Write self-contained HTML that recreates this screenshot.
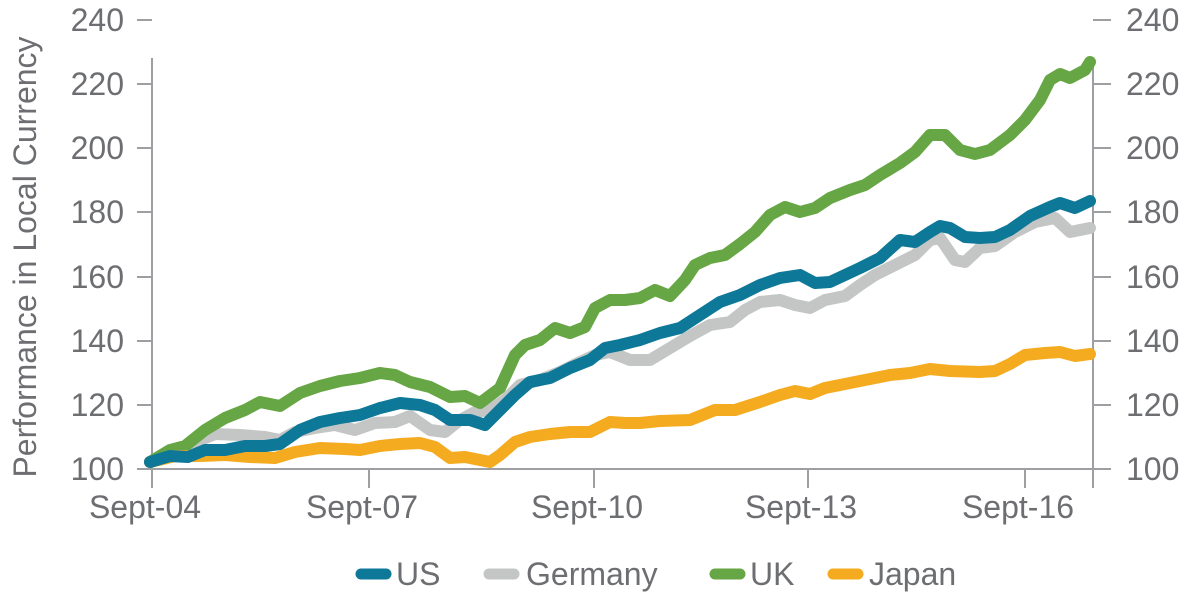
<!DOCTYPE html>
<html><head><meta charset="utf-8"><style>
body{margin:0;background:#fff}
svg text{font-family:"Liberation Sans",sans-serif;fill:#6d6e71}
</style></head><body>
<svg width="1191" height="598" viewBox="0 0 1191 598">
<g stroke="#9d9fa2" stroke-width="2" fill="none">
<line x1="152" y1="58" x2="152" y2="488"/>
<line x1="1093" y1="58" x2="1093" y2="488"/>
<line x1="137" y1="469" x2="1111" y2="469"/>
<line x1="369" y1="469" x2="369" y2="488"/>
<line x1="594" y1="469" x2="594" y2="488"/>
<line x1="808" y1="469" x2="808" y2="488"/>
<line x1="1025" y1="469" x2="1025" y2="488"/>
<path d="M137 20H152M137 84H152M137 148H152M137 212H152M137 277H152M137 341H152M137 405H152M1093 20H1111M1093 84H1111M1093 148H1111M1093 212H1111M1093 277H1111M1093 341H1111M1093 405H1111"/>
</g>
<g font-size="32" text-anchor="end">
<text x="124" y="31">240</text><text x="124" y="95">220</text><text x="124" y="159">200</text><text x="124" y="223">180</text><text x="124" y="288">160</text><text x="124" y="352">140</text><text x="124" y="416">120</text><text x="124" y="480">100</text>
</g>
<g font-size="32" text-anchor="start">
<text x="1126" y="31">240</text><text x="1126" y="95">220</text><text x="1126" y="159">200</text><text x="1126" y="223">180</text><text x="1126" y="288">160</text><text x="1126" y="352">140</text><text x="1126" y="416">120</text><text x="1126" y="480">100</text>
</g>
<g font-size="32" text-anchor="middle">
<text x="145" y="518">Sept-04</text><text x="362" y="518">Sept-07</text><text x="587" y="518">Sept-10</text><text x="801" y="518">Sept-13</text><text x="1018" y="518">Sept-16</text>
</g>
<text font-size="32" text-anchor="middle" transform="translate(36,257) rotate(-90)">Performance in Local Currency</text>
<g fill="none" stroke-width="12" stroke-linecap="round" stroke-linejoin="round">
<polyline stroke="#c4c6c5" points="150,462 175,452 200,440 215,434 240,435 265,437 280,440 295,432 315,428 335,425 355,430 375,423 395,422 410,416 430,430 445,432 460,420 475,412 490,410 505,400 520,385 540,380 560,372 580,362 595,355 610,352 630,360 650,360 670,348 690,336 710,325 730,322 745,310 760,302 780,300 795,305 810,308 825,300 845,296 860,285 875,275 895,265 915,255 930,240 940,238 955,260 965,262 980,248 995,246 1015,232 1035,222 1055,218 1070,232 1090,228"/>
<polyline stroke="#66a644" points="150,462 170,450 185,446 205,430 225,418 245,410 260,402 280,406 300,393 320,386 340,381 360,378 380,373 395,375 410,382 430,387 450,397 465,396 480,403 500,388 515,355 525,345 540,340 555,328 570,333 585,327 595,308 610,300 625,300 640,298 655,290 670,296 685,280 695,265 710,258 725,255 740,244 755,232 770,215 785,207 800,212 815,208 830,198 850,190 865,185 880,175 900,163 915,152 930,135 945,135 960,150 975,154 990,150 1010,135 1025,120 1040,100 1050,80 1060,74 1070,78 1085,70 1090,62"/>
<polyline stroke="#f5ab1f" points="150,462 175,456 200,456 225,455 250,457 275,458 295,452 320,448 345,449 360,450 380,446 400,444 420,443 435,447 450,458 465,457 480,460 490,462 500,455 515,442 530,437 550,434 570,432 590,432 600,427 610,422 625,423 640,423 660,421 690,420 715,410 735,410 760,402 780,395 795,391 810,394 825,388 845,384 870,379 890,375 910,373 930,369 950,371 980,372 995,371 1010,364 1025,355 1045,353 1060,352 1075,356 1090,354"/>
<polyline stroke="#0e7898" points="150,462 170,456 188,457 205,450 225,450 245,446 265,446 280,444 300,430 320,422 340,418 360,415 380,408 400,403 420,405 435,410 450,420 470,420 485,425 500,410 515,395 530,382 550,378 570,368 590,360 605,348 620,345 640,340 660,333 680,328 700,315 720,302 740,295 760,285 780,278 800,275 815,283 830,282 845,275 860,268 880,258 900,240 915,242 930,232 940,226 950,228 965,237 980,238 995,237 1010,230 1030,216 1050,207 1060,203 1075,208 1090,201"/>
</g>
<g stroke-width="11" stroke-linecap="round">
<line x1="361" y1="574" x2="386" y2="574" stroke="#0e7898"/>
<line x1="489" y1="574" x2="514" y2="574" stroke="#c4c6c5"/>
<line x1="715" y1="574" x2="740" y2="574" stroke="#66a644"/>
<line x1="833" y1="574" x2="858" y2="574" stroke="#f5ab1f"/>
</g>
<g font-size="32">
<text x="396" y="585">US</text><text x="526" y="585">Germany</text><text x="750" y="585">UK</text><text x="869" y="585">Japan</text>
</g>
</svg>
</body></html>
